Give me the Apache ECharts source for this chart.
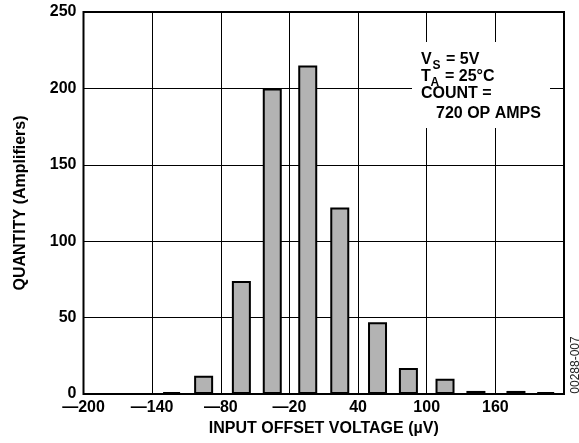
<!DOCTYPE html>
<html>
<head>
<meta charset="utf-8">
<script src="https://cdn.jsdelivr.net/npm/echarts@6/dist/echarts.min.js"></script>
<style>
html,body{margin:0;padding:0;background:#fff;}
#c{width:579px;height:443px;}
</style>
</head>
<body>
<div id="c"></div>
<script>
// bin centres (µV) and counts
var binCenters = [-123, -95, -62, -35, -4, 24, 57, 84, 116, 143, 178, 204];
var counts     = [1, 12, 74, 200, 215, 122, 47, 17, 10, 2, 2, 1];
var xTicks = [-200, -140, -80, -20, 40, 100, 160];
var yTicks = [0, 50, 100, 150, 200, 250];

var FONT = '"Liberation Sans", Arial, sans-serif';
var chart = echarts.init(document.getElementById('c'), null, {renderer: 'canvas'});

var barData = binCenters.map(function (x, i) { return [x, counts[i]]; });

chart.setOption({
  animation: false,
  backgroundColor: '#fff',
  grid: {left: 83.5, right: 15, top: 12, bottom: 49, show: true,
         borderColor: '#000', borderWidth: 2, backgroundColor: 'transparent'},
  xAxis: {
    type: 'value', min: -200, max: 220, interval: 60,
    name: 'INPUT OFFSET VOLTAGE (\u00B5V)', nameLocation: 'middle', nameGap: 25,
    nameTextStyle: {fontFamily: FONT, fontWeight: 'bold', fontSize: 16, color: '#000'},
    axisLine: {show: false}, axisTick: {show: false},
    axisLabel: {
      margin: 6, fontFamily: FONT, fontWeight: 'bold', fontSize: 16, color: '#000',
      formatter: function (v) {
        if (xTicks.indexOf(v) < 0) return '';
        return v < 0 ? '\u2014' + Math.abs(v) : String(v);
      }
    },
    splitLine: {show: true, lineStyle: {color: '#000', width: 1}}
  },
  yAxis: {
    type: 'value', min: 0, max: 250, interval: 50,
    name: 'QUANTITY (Amplifiers)', nameLocation: 'middle', nameGap: 55, nameRotate: 90,
    nameTextStyle: {fontFamily: FONT, fontWeight: 'bold', fontSize: 16, color: '#000'},
    axisLine: {show: false}, axisTick: {show: false},
    axisLabel: {
      margin: 7, fontFamily: FONT, fontWeight: 'bold', fontSize: 16, color: '#000',
      formatter: function (v) { return yTicks.indexOf(v) >= 0 ? String(v) : ''; }
    },
    splitLine: {show: true, lineStyle: {color: '#000', width: 1}}
  },
  series: [{
    type: 'bar', data: barData, barWidth: 19, barMinHeight: 2,
    itemStyle: {color: '#b3b3b3', borderColor: '#000', borderWidth: 2},
    z: 3
  }],
  graphic: [
    {type: 'rect', z: 100, shape: {x: 412, y: 42, width: 138, height: 86}, style: {fill: '#fff'}},
    {type: 'text', z: 101, x: 421, y: 60, style: {text: 'V', font: 'bold 16px ' + FONT, fill: '#000', verticalAlign: 'middle'}},
    {type: 'text', z: 101, x: 432.5, y: 66, style: {text: 'S', font: 'bold 12px ' + FONT, fill: '#000', verticalAlign: 'middle'}},
    {type: 'text', z: 101, x: 446, y: 60, style: {text: '= 5V', font: 'bold 16px ' + FONT, fill: '#000', verticalAlign: 'middle'}},
    {type: 'text', z: 101, x: 421, y: 77, style: {text: 'T', font: 'bold 16px ' + FONT, fill: '#000', verticalAlign: 'middle'}},
    {type: 'text', z: 101, x: 430.5, y: 83, style: {text: 'A', font: 'bold 12px ' + FONT, fill: '#000', verticalAlign: 'middle'}},
    {type: 'text', z: 101, x: 445, y: 77, style: {text: '= 25\u00B0C', font: 'bold 16px ' + FONT, fill: '#000', verticalAlign: 'middle'}},
    {type: 'text', z: 101, x: 421, y: 94, style: {text: 'COUNT =', font: 'bold 16px ' + FONT, fill: '#000', verticalAlign: 'middle'}},
    {type: 'text', z: 101, x: 436, y: 113.5, style: {text: '720 OP AMPS', font: 'bold 16px ' + FONT, fill: '#000', verticalAlign: 'middle'}},
    {type: 'text', z: 101, x: 576, y: 365, rotation: Math.PI / 2,
     style: {text: '00288-007', font: '12px ' + FONT, fill: '#222', align: 'center', verticalAlign: 'middle'}}
  ]
});
</script>
</body>
</html>
